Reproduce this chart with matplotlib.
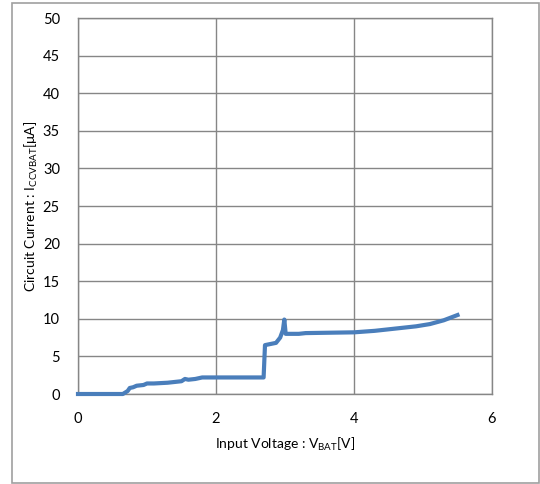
import matplotlib.pyplot as plt
from matplotlib.patches import Rectangle

# Input voltage VBAT [V] and circuit current ICCVBAT [uA]
voltage = [0.0, 0.65, 0.72, 0.75, 0.80, 0.85, 0.95, 1.00, 1.10, 1.30, 1.40, 1.50,
           1.55, 1.60, 1.70, 1.75, 1.80, 2.00, 2.69, 2.71, 2.87, 2.93, 2.97, 2.99,
           3.01, 3.20, 3.30, 4.00, 4.30, 4.60, 4.90, 5.10, 5.30, 5.50]
current = [0.0, 0.0, 0.4, 0.8, 0.9, 1.1, 1.2, 1.4, 1.4, 1.5, 1.6, 1.7,
           2.0, 1.9, 2.0, 2.1, 2.2, 2.2, 2.2, 6.5, 6.8, 7.5, 8.5, 9.9,
           8.0, 8.0, 8.1, 8.2, 8.4, 8.7, 9.0, 9.3, 9.8, 10.5]

x_ticks = [0, 2, 4, 6]
y_ticks = list(range(0, 55, 5))

plt.rcParams['font.family'] = ['Lato', 'DejaVu Sans']
grid_col = '#868686'

fig = plt.figure(figsize=(5.4, 4.84), dpi=100)
ax = fig.add_axes([78 / 540, 1 - 394 / 484, (492 - 78) / 540, (394 - 18) / 484])

# outer chart frame
fig.patches.append(Rectangle((12 / 540, 1 - 483 / 484), 527 / 540, 480 / 484,
                             transform=fig.transFigure, fill=False,
                             edgecolor='#a0a0a0', linewidth=1.2))

ax.plot(voltage, current, color='#4A7EBB', linewidth=3, solid_joinstyle='round',
        zorder=5, clip_on=False)

ax.set_xlim(0, 6)
ax.set_ylim(0, 50)
ax.set_xticks(x_ticks)
ax.set_yticks(y_ticks)
ax.grid(True, color=grid_col, linewidth=1)
ax.tick_params(length=0, labelsize=10.5, pad=13)
for s in ax.spines.values():
    s.set_color(grid_col)
    s.set_linewidth(1)

ax.set_xlabel(r'Input Voltage : V$_{\mathregular{BAT}}$[V]', fontsize=10, labelpad=7)
ax.set_ylabel(r'Circuit Current : I$_{\mathregular{CCVBAT}}$[μA]', fontsize=10, labelpad=2)

plt.savefig('out.png', dpi=100)
